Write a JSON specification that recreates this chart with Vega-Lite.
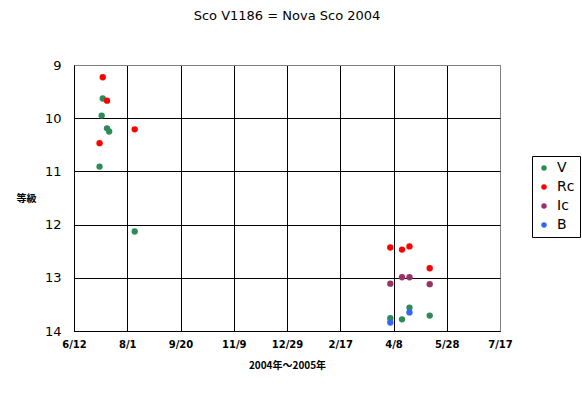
{
  "$schema": "https://vega.github.io/schema/vega-lite/v6.json",
  "width": 426,
  "height": 266,
  "autosize": "none",
  "padding": {"left": 74, "top": 65, "right": 82, "bottom": 67},
  "background": "white",
  "title": {"text": "Sco V1186 = Nova Sco 2004", "fontSize": 13, "font": "DejaVu Sans", "fontWeight": "normal", "anchor": "middle", "offset": 36, "color": "black"},
  "data": {"values": [
    {"date": "2004-07-09", "mag": 9.23, "band": "Rc"},
    {"date": "2004-07-09", "mag": 9.63, "band": "V"},
    {"date": "2004-07-13", "mag": 9.67, "band": "Rc"},
    {"date": "2004-07-08", "mag": 9.95, "band": "V"},
    {"date": "2004-07-13", "mag": 10.19, "band": "V"},
    {"date": "2004-07-15", "mag": 10.25, "band": "V"},
    {"date": "2004-08-08", "mag": 10.21, "band": "Rc"},
    {"date": "2004-07-06", "mag": 10.47, "band": "Rc"},
    {"date": "2004-07-06", "mag": 10.91, "band": "V"},
    {"date": "2004-08-08", "mag": 12.13, "band": "V"},
    {"date": "2005-04-05", "mag": 12.43, "band": "Rc"},
    {"date": "2005-04-16", "mag": 12.47, "band": "Rc"},
    {"date": "2005-04-23", "mag": 12.41, "band": "Rc"},
    {"date": "2005-05-12", "mag": 12.82, "band": "Rc"},
    {"date": "2005-04-16", "mag": 12.99, "band": "Ic"},
    {"date": "2005-04-23", "mag": 12.99, "band": "Ic"},
    {"date": "2005-04-05", "mag": 13.11, "band": "Ic"},
    {"date": "2005-05-12", "mag": 13.12, "band": "Ic"},
    {"date": "2005-04-23", "mag": 13.56, "band": "V"},
    {"date": "2005-04-23", "mag": 13.65, "band": "B"},
    {"date": "2005-05-12", "mag": 13.71, "band": "V"},
    {"date": "2005-04-05", "mag": 13.76, "band": "V"},
    {"date": "2005-04-16", "mag": 13.78, "band": "V"},
    {"date": "2005-04-05", "mag": 13.84, "band": "B"}
  ]},
  "mark": {"type": "circle", "size": 40, "opacity": 1},
  "encoding": {
    "x": {
      "field": "date", "type": "temporal",
      "scale": {"type": "utc", "domain": [{"year": 2004, "month": 6, "date": 12, "utc": true}, {"year": 2005, "month": 7, "date": 17, "utc": true}], "nice": false},
      "axis": {
        "values": [
          {"year": 2004, "month": 6, "date": 12, "utc": true},
          {"year": 2004, "month": 8, "date": 1, "utc": true},
          {"year": 2004, "month": 9, "date": 20, "utc": true},
          {"year": 2004, "month": 11, "date": 9, "utc": true},
          {"year": 2004, "month": 12, "date": 29, "utc": true},
          {"year": 2005, "month": 2, "date": 17, "utc": true},
          {"year": 2005, "month": 4, "date": 8, "utc": true},
          {"year": 2005, "month": 5, "date": 28, "utc": true},
          {"year": 2005, "month": 7, "date": 17, "utc": true}
        ],
        "labelExpr": "utcFormat(datum.value, '%-m/%-d')",
        "title": "2004年～2005年",
        "titleFont": "Noto Sans CJK JP", "titleFontSize": 10, "titleFontWeight": "bold",
        "titleY": 34, "titleBaseline": "middle",
        "labelFont": "DejaVu Sans", "labelFontSize": 10, "labelFontWeight": "bold",
        "labelPadding": 8, "labelFlush": false, "labelOverlap": false,
        "ticks": false, "grid": true,
        "gridColor": {"condition": {"test": "utcyear(datum.value) == 2005 && utcmonth(datum.value) == 6", "value": "#808080"}, "value": "black"},
        "gridOpacity": 1, "gridWidth": 1,
        "domainColor": "black", "domainWidth": 1, "labelColor": "black", "titleColor": "black"
      }
    },
    "y": {
      "field": "mag", "type": "quantitative",
      "scale": {"domain": [9, 14], "reverse": true, "nice": false, "zero": false},
      "axis": {
        "values": [9, 10, 11, 12, 13, 14],
        "title": "等級",
        "titleFont": "Noto Sans CJK JP", "titleFontSize": 10, "titleFontWeight": "bold",
        "titleAngle": 0, "titleX": -48, "titleY": 133, "titleAlign": "center", "titleBaseline": "middle",
        "labelFont": "DejaVu Sans", "labelFontSize": 13, "labelFontWeight": "normal",
        "labelPadding": 13, "labelFlush": false,
        "ticks": false, "grid": true,
        "gridColor": {"condition": {"test": "datum.value == 9", "value": "#808080"}, "value": "black"},
        "gridOpacity": 1, "gridWidth": 1,
        "domainColor": "black", "domainWidth": 1, "labelColor": "black", "titleColor": "black"
      }
    },
    "color": {
      "field": "band", "type": "nominal",
      "scale": {"domain": ["V", "Rc", "Ic", "B"], "range": ["#2e8b57", "#ff0000", "#993366", "#3366ff"]},
      "legend": {
        "title": null, "orient": "none", "legendX": 458, "legendY": 91,
        "strokeColor": "black", "padding": 5, "rowPadding": 5,
        "symbolType": "circle", "symbolSize": 30, "symbolOpacity": 1,
        "labelFont": "DejaVu Sans", "labelFontSize": 14, "labelColor": "black", "labelOffset": 6
      }
    }
  },
  "config": {"view": {"stroke": "#808080", "strokeWidth": 1}}
}
